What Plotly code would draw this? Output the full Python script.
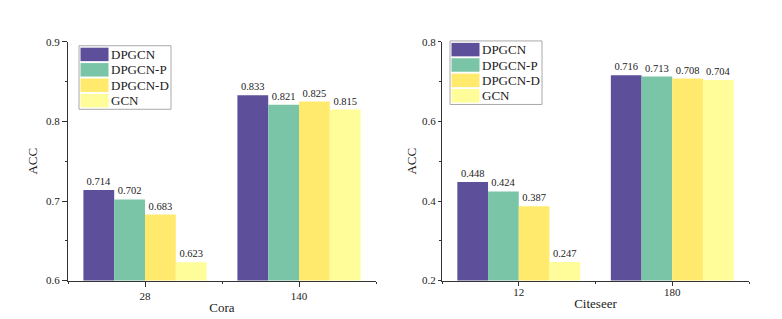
import plotly.graph_objects as go
from plotly.subplots import make_subplots

series = ["DPGCN", "DPGCN-P", "DPGCN-D", "GCN"]
colors = ["#5D4F9A", "#7AC5A8", "#FFEA6E", "#FFFD99"]

cora_labels = ["28", "140"]
cora_values = {
    "DPGCN": [0.714, 0.833],
    "DPGCN-P": [0.702, 0.821],
    "DPGCN-D": [0.683, 0.825],
    "GCN": [0.623, 0.815],
}

citeseer_labels = ["12", "180"]
citeseer_values = {
    "DPGCN": [0.448, 0.716],
    "DPGCN-P": [0.424, 0.713],
    "DPGCN-D": [0.387, 0.708],
    "GCN": [0.247, 0.704],
}

FONT = "Liberation Serif"
W, H = 782, 319
INK = "#222"
AX = "#333"

fig = make_subplots(rows=1, cols=2)

for col, vals in ((1, cora_values), (2, citeseer_values)):
    for i, s in enumerate(series):
        fig.add_trace(go.Bar(
            x=[0, 1], y=vals[s], name=s, marker=dict(color=colors[i], line=dict(width=0)),
            text=[f"{v:.3f}" for v in vals[s]], textposition="outside",
            textfont=dict(size=10.5, color=INK, family=FONT), cliponaxis=False,
            showlegend=False,
        ), row=1, col=col)

fig.update_xaxes(
    range=[-0.5, 1.5], tickvals=[0, 1], showline=True, linecolor=AX, linewidth=1,
    ticks="outside", tickcolor=AX, showgrid=False, zeroline=False,
    tickfont=dict(size=11, color=INK, family=FONT),
    minor=dict(ticks="outside", ticklen=2, tickcolor=AX, tick0=0.5, dtick=1, showgrid=False),
    title=dict(font=dict(size=13, color=INK, family=FONT)),
)
fig.update_yaxes(
    showline=True, linecolor=AX, linewidth=1, ticks="outside",
    tickcolor=AX, showgrid=False, zeroline=False,
    tickfont=dict(size=11, color=INK, family=FONT),
    title=dict(text="ACC", font=dict(size=13, color=INK, family=FONT)),
    domain=[42/H, 290/H],
)

fig.update_xaxes(domain=[60/W, 368/W], ticktext=cora_labels, ticklen=5,
                 title=dict(text="Cora", standoff=2), row=1, col=1)
fig.update_xaxes(domain=[434/W, 741/W], ticktext=citeseer_labels, ticklen=4, ticklabelstandoff=-3,
                 title=dict(text="Citeseer", standoff=2), row=1, col=2)
fig.update_yaxes(range=[0.6, 0.9], dtick=0.1, tick0=0.6, ticklen=5,
                 minor=dict(ticks="outside", ticklen=2, tickcolor=AX, dtick=0.05, showgrid=False),
                 title=dict(standoff=5), row=1, col=1)
fig.update_yaxes(range=[0.2, 0.8], dtick=0.2, tick0=0.2, ticklen=3,
                 minor=dict(ticks="outside", ticklen=2, tickcolor=AX, dtick=0.1, showgrid=False),
                 title=dict(standoff=2), row=1, col=2)

# Legend boxes (layout decorations, pixel positions converted to paper units)
legend_boxes = [(71, 33), (442, 28)]  # top-left corner in px
box_w, box_h = 92, 66
sw_w, sw_h, row_pitch = 28, 14, 16

shapes, annotations = [], []
def px(x):
    return x / W
def py(y):
    return 1 - y / H

for (bx, by) in legend_boxes:
    shapes.append(dict(type="rect", xref="paper", yref="paper",
                       x0=px(bx), x1=px(bx + box_w), y0=py(by), y1=py(by + box_h),
                       line=dict(color="#A8A8A8", width=1), fillcolor="white", layer="above"))
    for i, s in enumerate(series):
        top = by + 2 + i * row_pitch
        shapes.append(dict(type="rect", xref="paper", yref="paper",
                           x0=px(bx + 1.5), x1=px(bx + 1.5 + sw_w), y0=py(top), y1=py(top + sw_h),
                           line=dict(width=0), fillcolor=colors[i], layer="above"))
        annotations.append(dict(xref="paper", yref="paper", x=px(bx + 31), y=py(top + sw_h / 2),
                                text=s, showarrow=False, xanchor="left", yanchor="middle",
                                borderpad=0, font=dict(size=13, color=INK, family=FONT)))

fig.update_layout(
    width=W, height=H,
    margin=dict(l=0, r=0, t=0, b=0),
    paper_bgcolor="white", plot_bgcolor="white",
    font=dict(family=FONT, color=INK),
    barmode="group", bargap=0.2, bargroupgap=0,
    shapes=shapes, annotations=annotations,
)

fig.write_html("out.html")
